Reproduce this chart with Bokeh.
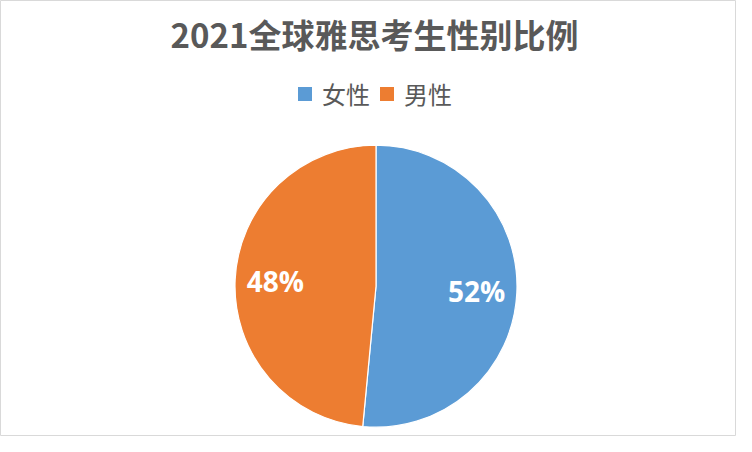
import numpy as np
from bokeh.plotting import figure
from bokeh.models import ColumnDataSource, Range1d, Label, LabelSet
from bokeh.core.properties import value
from bokeh.embed import file_html
from bokeh.resources import INLINE

title_text = "2021全球雅思考生性别比例"
categories = ["女性", "男性"]
values = [51.5, 48.5]
colors = ["#5B9BD5", "#ED7D31"]

W, H = 736, 436
cx, cy, R = 375.5, 150.3, 141

vals = np.array(values, dtype=float)
frac = vals / vals.sum()
cum = np.concatenate([[0], np.cumsum(frac)])
start = np.pi / 2 - 2 * np.pi * cum[:-1]
end = np.pi / 2 - 2 * np.pi * cum[1:]
mid = (start + end) / 2
labels = [f"{round(f * 100):.0f}%" for f in frac]

src = ColumnDataSource(dict(
    category=categories, start=start, end=end, color=colors,
    lx=cx + 0.715 * R * np.cos(mid), ly=cy + 0.715 * R * np.sin(mid), label=labels,
))

p = figure(width=W, height=H, output_backend="svg", toolbar_location=None,
           x_range=Range1d(0, W), y_range=Range1d(0, H), min_border=0,
           background_fill_color="white", border_fill_color="white")
p.axis.visible = False
p.grid.visible = False
p.outline_line_color = "#D9D9D9"
p.outline_line_width = 1

p.wedge(x=cx, y=cy, radius=R, start_angle="start", end_angle="end", direction="clock",
        fill_color="color", line_color="white", line_width=1.2,
        legend_field="category", source=src)

p.add_layout(LabelSet(x="lx", y="ly", text="label", source=src, text_align="center",
                      text_baseline="middle", text_color="white", text_font_style="bold",
                      text_font=value("Open Sans"), text_font_size="28px"))

p.add_layout(Label(x=374, y=H - 33.5, text=title_text, text_align="center",
                   text_baseline="middle", text_color="#595959", text_font_style="bold",
                   text_font="Noto Sans CJK SC", text_font_size="33px"))

lg = p.legend[0]
lg.orientation = "horizontal"
lg.location = (295, 325)
lg.margin = 0
lg.padding = 0
lg.border_line_color = None
lg.background_fill_alpha = 0
lg.glyph_width = 19
lg.glyph_height = 19
lg.label_standoff = 8
lg.spacing = 7
lg.label_text_font = "Noto Sans CJK SC"
lg.label_text_font_size = "24px"
lg.label_text_color = "#595959"

open("out.html", "w").write(file_html(p, INLINE))
